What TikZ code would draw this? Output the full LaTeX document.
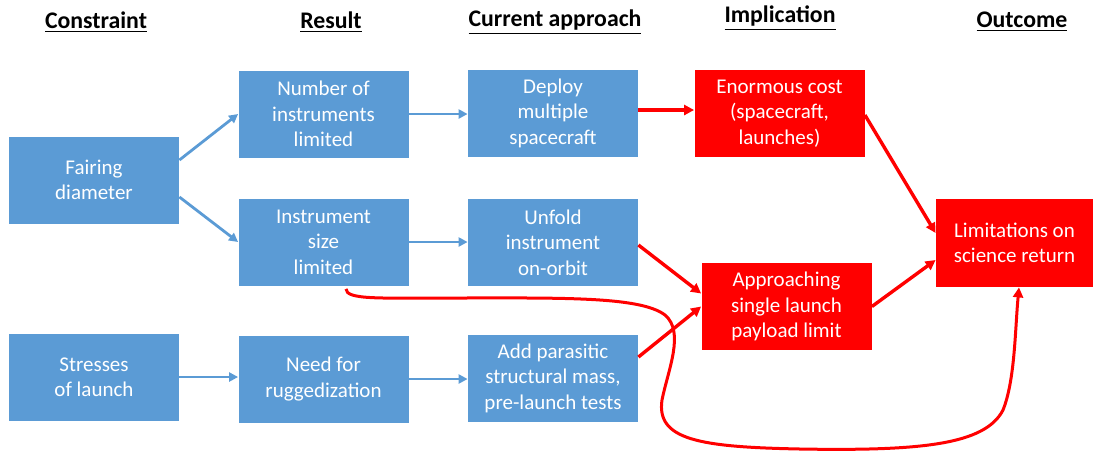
\documentclass[tikz,border=0pt]{standalone}
\usepackage{fontspec}
\setmainfont{Carlito}
\usetikzlibrary{arrows.meta,calc}
\definecolor{boxblue}{HTML}{5B9BD5}
\definecolor{boxred}{HTML}{FF0000}
\begin{document}
\begin{tikzpicture}[x=0.5pt,y=-0.5pt,
  bbox/.style={fill=boxblue, draw=none, minimum width=85pt, minimum height=43.5pt, text=white, align=center, font=\fontsize{10.5}{12.75}\selectfont, inner sep=0pt},
  rbox/.style={bbox, fill=boxred},
  hdr/.style={font=\fontsize{11.9}{14}\selectfont\bfseries, inner sep=0pt},
  barrow/.style={draw=boxblue, line width=1.4pt, -{Triangle[length=4.5pt,width=4.5pt]}},
  rarrow/.style={draw=boxred, line width=1.7pt, -{Triangle[length=5pt,width=5pt]}},
]
\useasboundingbox (0,0) rectangle (1096,452);

% headers
\node[hdr] (h1) at (96,22) {\underline{Constraint}};
\node[hdr] (h2) at (331,22) {\underline{Result}};
\node[hdr] (h3) at (555,22) {\underline{Current approach}};
\node[hdr] (h4) at (780,18) {\underline{Implication}};
\node[hdr] (h5) at (1022,22) {\underline{Outcome}};

% boxes
\node[bbox] (fair)   at (94,180)    {Fairing\\diameter};
\node[bbox] (num)    at (323.5,114) {Number of\\instruments\\limited};
\node[bbox] (isize)  at (323.5,242) {Instrument\\size\\limited};
\node[bbox] (stress) at (94,377)    {Stresses\\of launch};
\node[bbox] (need)   at (323.5,379) {Need for\\ruggedization};
\node[bbox] (deploy) at (553,113)   {Deploy\\multiple\\spacecraft};
\node[bbox] (unfold) at (553,242.5) {Unfold\\instrument\\on-orbit};
\node[bbox] (add)    at (553,378)   {Add parasitic\\structural mass,\\pre-launch tests};
\node[rbox] (cost)   at (779.5,113.5) {Enormous cost\\(spacecraft,\\launches)};
\node[rbox] (appr)   at (786.5,306.5) {Approaching\\single launch\\payload limit};
\node[rbox, minimum width=78.5pt, minimum height=44pt] (lim) at (1014.5,243) {Limitations on\\science return};

% blue arrows
\draw[barrow] ($(fair.east)+(0,-20)$) -- (num.west);
\draw[barrow] ($(fair.east)+(0,17)$) -- (isize.west);
\draw[barrow] (num.east) -- (num.east -| deploy.west);
\draw[barrow] (isize.east) -- (isize.east -| unfold.west);
\draw[barrow] (stress.east) -- (stress.east -| need.west);
\draw[barrow] (need.east) -- (need.east -| add.west);

% red arrows
\draw[rarrow] ($(deploy.east)+(0,-3)$) -- ($(cost.west)+(0,-3.5)$);
\draw[rarrow] ($(cost.east)+(0,1.5)$) -- ($(lim.west)+(0,-10)$);
\draw[rarrow] ($(unfold.east)+(0,2.5)$) -- ($(appr.west)+(0,-13)$);
\draw[rarrow] ($(add.east)+(0,-21)$) -- (appr.west);
\draw[rarrow] (appr.east) -- ($(lim.west)+(0,17)$);

% long curved arrow
\draw[rarrow, line width=1.5pt] ($(isize.south)+(22.5,3)$)
  .. controls (346,300) and (380,298) .. (450,298)
  .. controls (560,298) and (640,296) .. (665,315)
  .. controls (685,332) and (668,370) .. (662,400)
  .. controls (656,440) and (700,447) .. (800,449)
  .. controls (920,451) and (985,445) .. (1003,410)
  .. controls (1015,380) and (1015,330) .. ($(lim.south)+(4.5,0)$);
\end{tikzpicture}
\end{document}
